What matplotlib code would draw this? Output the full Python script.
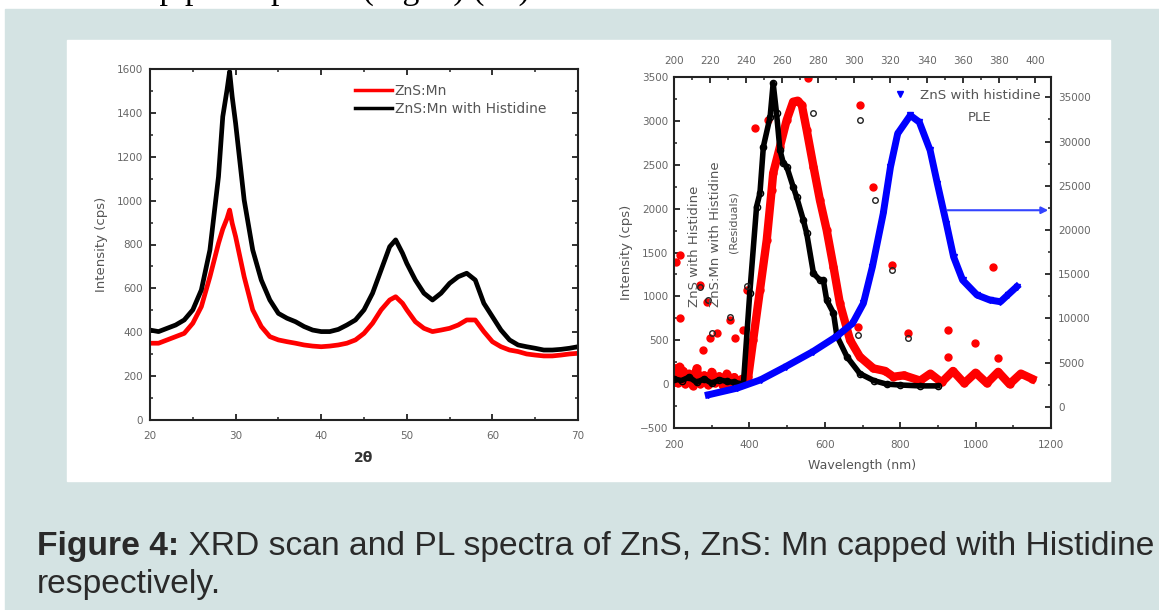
import matplotlib
matplotlib.use("Agg")
import matplotlib.pyplot as plt
from matplotlib.patches import Rectangle
from matplotlib.ticker import MultipleLocator

# XRD scan (left panel)
two_theta = [20, 21, 22, 23, 24, 25, 26, 27, 28, 28.5, 29, 29.3, 29.6, 30, 31, 32, 33, 34,
             35, 36, 37, 38, 39, 40, 41, 42, 43, 44, 45, 46, 47, 48, 48.7, 49.5, 50, 51,
             52, 53, 54, 55, 56, 57, 58, 59, 60, 61, 62, 63, 64, 65, 66, 67, 68, 69, 70]
xrd_histidine = [410, 403, 418, 433, 456, 502, 593, 775, 1109, 1383, 1505, 1588, 1474, 1353,
                 1003, 775, 638, 547, 486, 464, 448, 426, 410, 403, 403, 413, 433, 456, 502,
                 578, 684, 790, 821, 760, 714, 638, 578, 547, 578, 623, 653, 669, 638, 532,
                 471, 410, 365, 342, 334, 327, 319, 319, 322, 327, 334]
xrd_mn = [350, 350, 365, 380, 395, 441, 517, 653, 805, 870, 919, 957, 897, 836, 653, 502,
          426, 380, 365, 357, 350, 342, 337, 334, 337, 342, 350, 365, 395, 441, 502, 547,
          562, 532, 502, 448, 418, 403, 410, 418, 433, 456, 456, 403, 357, 334, 319, 312,
          301, 296, 292, 292, 296, 301, 304]

# PL spectra (right panel, bottom / left axes)
red_nm = [200, 205, 210, 215, 220, 225, 230, 240, 250, 260, 270, 280, 290, 300, 310, 320,
          330, 340, 350, 360, 370, 380, 390, 397, 410, 428, 446, 459, 463, 481, 499, 516,
          528, 539, 552, 570, 587, 605, 623, 640, 667, 693, 729, 760, 782, 810, 853, 880,
          910, 940, 970, 1000, 1030, 1060, 1090, 1120, 1150]
red_pl = [20, 180, 10, 200, 40, 150, 0, 120, -20, 180, 0, 100, -10, 140, 10, 90, -20, 120,
          0, 80, -10, 60, 20, 84, 502, 1072, 1642, 2212, 2402, 2705, 3010, 3218, 3230, 3181,
          2896, 2478, 2098, 1756, 1338, 920, 502, 312, 179, 150, 84, 100, 40, 120, 20, 150,
          10, 130, 10, 140, 0, 120, 60]
red_spike_nm = [205, 216, 216, 269, 288, 278, 296, 313, 349, 362, 384, 393, 415, 450, 556,
                693, 729, 778, 689, 822, 928, 928, 999, 1047, 1060]
red_spike_pl = [1395, 1471, 749, 1129, 939, 388, 521, 578, 730, 521, 616, 1072, 2915, 3010,
                3485, 3181, 2250, 1357, 654, 578, 616, 312, 464, 1338, 293]

black_nm = [200, 220, 240, 260, 280, 300, 320, 340, 360, 384, 401, 419, 428, 437, 455, 463,
            472, 481, 490, 499, 516, 525, 543, 552, 570, 587, 596, 605, 623, 632, 659, 693,
            730, 764, 800, 852, 900]
black_pl = [60, 40, 80, 20, 60, 10, 50, 30, 20, 0, 1038, 2022, 2177, 2705, 3047, 3428, 3086,
            2668, 2520, 2478, 2250, 2136, 1870, 1718, 1262, 1186, 1186, 958, 810, 550, 310,
            120, 40, 0, -10, -20, -20]
black_spike_nm = [269, 290, 300, 349, 393, 570, 693, 733, 778, 689, 822]
black_spike_pl = [1110, 960, 580, 760, 1120, 3086, 3010, 2098, 1300, 559, 521]

# PLE (top / right axes)
ple_nm = [219, 235, 248, 262, 277, 290, 299, 305, 310, 316, 320, 324, 331, 336, 342, 346,
          351, 355, 360, 368, 375, 381, 385, 390]
ple_counts = [1350, 2110, 3050, 4550, 6240, 7940, 9440, 11700, 15840, 21860, 27120, 30900,
              32960, 32200, 29000, 25250, 20730, 16960, 14330, 12640, 12080, 11880, 12640,
              13580]

W, H = 1159, 610
fig = plt.figure(figsize=(W / 100, H / 100), dpi=100)

# page background, white panel and caption
bg = fig.add_axes([0, 0, 1, 1], zorder=-10)
bg.set_xlim(0, W)
bg.set_ylim(H, 0)
bg.axis("off")
bg.add_patch(Rectangle((5, 9), W, H, color="#d4e3e3"))
bg.add_patch(Rectangle((67, 40), 1043, 441, color="white"))
# previous paragraph, mostly cut off by the top edge
bg.text(530, -1.5, "as shown in the sharp peak spectra (Fig. 4) (12)", fontsize=24.5,
        family="Liberation Serif", va="baseline", ha="right")
cap = bg.text(37, 555, "Figure 4:", fontsize=24.2, family="Liberation Sans",
              fontweight="bold", va="baseline", color="#2a2a2a")
bg.annotate(" XRD scan and PL spectra of ZnS, ZnS: Mn capped with Histidine",
            xy=(1, 0), xycoords=cap, va="bottom", fontsize=24.2,
            family="Liberation Sans", color="#2a2a2a")
bg.text(37, 593, "respectively.", fontsize=24.2, family="Liberation Sans",
        va="baseline", color="#2a2a2a")


def style(ax):
    for sp in ax.spines.values():
        sp.set_linewidth(1.5)
        sp.set_color("#222222")
    ax.tick_params(which="both", direction="in", colors="#222222", labelcolor="#666666",
                   labelsize=7.5)
    ax.tick_params(which="major", length=4, width=1.3)
    ax.tick_params(which="minor", length=2.5, width=1.1)


# left: XRD
ax1 = fig.add_axes([150 / W, 1 - 420 / H, 428 / W, 351 / H])
ax1.plot(two_theta, xrd_mn, color="red", lw=3.4, label="ZnS:Mn")
ax1.plot(two_theta, xrd_histidine, color="black", lw=3.4, label="ZnS:Mn with Histidine")
ax1.set_xlim(20, 70)
ax1.set_ylim(0, 1600)
ax1.xaxis.set_major_locator(MultipleLocator(10))
ax1.xaxis.set_minor_locator(MultipleLocator(5))
ax1.yaxis.set_major_locator(MultipleLocator(200))
ax1.yaxis.set_minor_locator(MultipleLocator(100))
style(ax1)
ax1.tick_params(which="both", top=True, right=True)
ax1.tick_params(axis="x", pad=8)
ax1.tick_params(axis="y", pad=5)
ax1.set_ylabel("Intensity (cps)", fontsize=9.5, color="#555555", labelpad=6)
ax1.set_xlabel("2θ", fontsize=10, fontweight="bold", color="#333333", labelpad=7)
leg1 = ax1.legend(loc="upper left", bbox_to_anchor=(0.479, 0.957), frameon=False,
                  fontsize=10, handlelength=2.66, handletextpad=0.2, labelspacing=0.27,
                  borderpad=0, borderaxespad=0, labelcolor="#555555")
leg1.legend_handles[0].set_linewidth(2.5)
leg1.legend_handles[1].set_linewidth(2.5)

# right: PL (bottom/left axes)
ax2 = fig.add_axes([674 / W, 1 - 428 / H, 377 / W, 351 / H])
ax2.plot(red_nm, red_pl, color="red", lw=6, marker="o", ms=5, zorder=2)
ax2.plot(red_spike_nm, red_spike_pl, ls="none", color="red", marker="o", ms=5, zorder=2)
ax2.plot(black_nm, black_pl, color="black", lw=4, marker="o", ms=4.5, mfc="none",
         zorder=3)
ax2.plot(black_spike_nm, black_spike_pl, ls="none", color="#222222", marker="o", ms=4,
         mfc="none", zorder=3)
ax2.set_xlim(200, 1200)
ax2.set_ylim(-500, 3500)
ax2.xaxis.set_major_locator(MultipleLocator(200))
ax2.xaxis.set_minor_locator(MultipleLocator(100))
ax2.yaxis.set_major_locator(MultipleLocator(500))
ax2.yaxis.set_minor_locator(MultipleLocator(250))
style(ax2)
ax2.tick_params(axis="x", pad=9)
ax2.tick_params(axis="y", pad=4)
ax2.set_ylabel("Intensity (cps)", fontsize=9.5, color="#555555", labelpad=5)
ax2.set_xlabel("Wavelength (nm)", fontsize=9, color="#555555", labelpad=6)
ax2.text(0.0557, 0.345, "ZnS with Histidine", rotation=90, transform=ax2.transAxes,
         ha="center", va="bottom", fontsize=9.5, color="#555555")
ax2.text(0.1088, 0.345, "ZnS:Mn with Histidine", rotation=90, transform=ax2.transAxes,
         ha="center", va="bottom", fontsize=9.5, color="#555555")
ax2.text(0.1565, 0.587, "(Residuals)", rotation=90, transform=ax2.transAxes,
         ha="center", va="center", fontsize=8, color="#555555")

# PLE overlay (top/right axes)
ax3 = fig.add_axes([674 / W, 1 - 428 / H, 377 / W, 351 / H], frameon=False)
ax3.patch.set_alpha(0)
ax3.plot(ple_nm, ple_counts, color="blue", lw=5, marker="v", ms=5,
         label="ZnS with histidine")
ax3.annotate("", xy=(409, 22230), xytext=(350, 22230),
             arrowprops=dict(arrowstyle="-|>", color="#3344ff", lw=1.5))
ax3.set_xlim(200, 409)
ax3.set_ylim(-2400, 37300)
ax3.xaxis.tick_top()
ax3.yaxis.tick_right()
ax3.xaxis.set_major_locator(MultipleLocator(20))
ax3.xaxis.set_minor_locator(MultipleLocator(10))
ax3.yaxis.set_major_locator(MultipleLocator(5000))
ax3.yaxis.set_minor_locator(MultipleLocator(2500))
style(ax3)
ax3.tick_params(axis="x", pad=8)
ax3.tick_params(axis="y", pad=5)
leg3 = ax3.legend(loc="upper left", bbox_to_anchor=(0.581, 0.966), frameon=False,
                  fontsize=9.6, handlelength=1.0, handletextpad=1.0, numpoints=1,
                  borderpad=0, borderaxespad=0, labelcolor="#555555")
for h in leg3.legend_handles:
    h.set_linestyle("none")
ax3.text(0.812, 0.886, "PLE", transform=ax3.transAxes, ha="center", va="center",
         fontsize=9.6, color="#555555")

fig.savefig("out.png", dpi=100)
